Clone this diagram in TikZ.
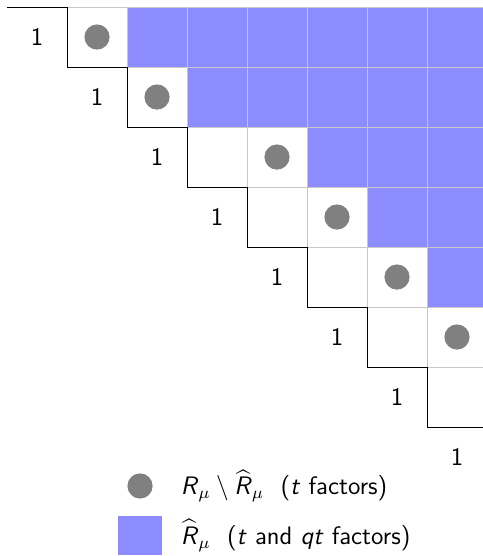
\documentclass[tikz,border=0pt]{standalone}
\usepackage{amsmath}
\usepackage{amssymb}
\usepackage{tikz}
\usetikzlibrary{positioning}

\definecolor{hatblue}{RGB}{140,140,255}
\definecolor{gridgray}{RGB}{200,200,200}
\newcommand{\Rsf}{\textsf{\textit{R}}}
\newcommand{\tsf}{\textsf{\textit{t}}}
\newcommand{\qtsf}{\textsf{\textit{qt}}}

\begin{document}
\begin{tikzpicture}[
  x=1cm, y=-1cm,
  font=\sffamily\fontsize{12}{14}\selectfont,
  cell/.style={draw=gridgray, line width=0.4pt},
  hat/.style={cell, fill=hatblue},
  dot/.style={circle, fill=black!50, inner sep=0pt, minimum size=4.2mm},
  stair/.style={draw=black, line width=0.4pt},
  legtext/.style={anchor=west, inner sep=2pt},
]

\useasboundingbox (-1.117,-0.117) rectangle (6.933,9.15);
\clip (-1.117,-0.117) rectangle (6.933,9.15);

\foreach \r in {0,...,6}
  \foreach \c in {\r,...,6}
    \draw[cell] (\c,\r) rectangle ++(1,1);

\foreach \r/\s in {0/1,1/2,2/4,3/5,4/6}
  \foreach \c in {\s,...,6}
    \draw[hat] (\c,\r) rectangle ++(1,1);

\foreach \r/\c in {0/0,1/1,2/3,3/4,4/5,5/6}
  \node[dot] (dot\r) at (\c+0.5,\r+0.5) {};

\draw[stair] (-1,0) -- (0,0) \foreach \i in {1,...,8} { |- (\i,\i) };

\foreach \i in {0,...,7}
  \node (one\i) at (\i-0.5,\i+0.5) {1};

\node[dot] (legdot) at (1.217,7.983) {};
\node[legtext] (legdottext) at (1.82,7.983)
  {$\Rsf_\mu \setminus \widehat{\Rsf}_\mu$\ \ (\tsf{} factors)};

\node[fill=hatblue, inner sep=0pt, minimum width=7.3mm, minimum height=6.5mm]
  (legbox) at (1.217,8.808) {};
\node[legtext] (legboxtext) at (1.82,8.808)
  {$\widehat{\Rsf}_\mu$\ \ (\tsf{} and \qtsf{} factors)};

\end{tikzpicture}
\end{document}
